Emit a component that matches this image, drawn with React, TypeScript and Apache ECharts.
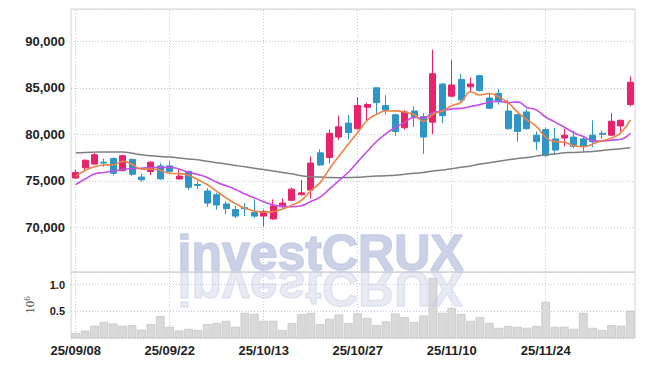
import React, { useEffect, useRef } from 'react';
import * as echarts from 'echarts';

const dates = [
  '25/09/08', '25/09/09', '25/09/10', '25/09/11', '25/09/12',
  '25/09/15', '25/09/16', '25/09/17', '25/09/18', '25/09/19',
  '25/09/22', '25/09/23', '25/09/24', '25/09/25', '25/09/26',
  '25/09/29', '25/09/30', '25/10/01', '25/10/02', '25/10/10',
  '25/10/13', '25/10/14', '25/10/15', '25/10/16', '25/10/17',
  '25/10/20', '25/10/21', '25/10/22', '25/10/23', '25/10/24',
  '25/10/27', '25/10/28', '25/10/29', '25/10/30', '25/10/31',
  '25/11/03', '25/11/04', '25/11/05', '25/11/06', '25/11/07',
  '25/11/10', '25/11/11', '25/11/12', '25/11/13', '25/11/14',
  '25/11/17', '25/11/18', '25/11/19', '25/11/20', '25/11/21',
  '25/11/24', '25/11/25', '25/11/26', '25/11/27', '25/11/28',
  '25/12/01', '25/12/02', '25/12/03', '25/12/04', '25/12/05',
];

const open = [
  75300, 76400, 76800, 77000, 77400, 76100, 77300, 75400, 76000, 76600,
  76600, 75200, 76000, 74600, 73900, 73500, 72500, 71900, 72100, 71600,
  71200, 70900, 72200, 72900, 73500, 74000, 78000, 77500, 79700, 81200,
  80600, 82900, 85000, 83100, 82100, 80700, 82500, 81900, 81300, 85400,
  84100, 85900, 85100, 86300, 83900, 84400, 82500, 82100, 82400, 79900,
  80500, 79500, 79600, 79700, 79500, 79900, 80100, 79900, 80900, 83200,
];
const close = [
  75900, 77200, 77800, 76900, 75800, 77700, 75700, 75100, 77000, 75200,
  76000, 75500, 74300, 74500, 72600, 72400, 72000, 71200, 72000, 71200,
  71700, 72300, 72600, 74100, 73700, 76900, 76700, 80100, 80800, 80200,
  83100, 83200, 83400, 82600, 80300, 82400, 81900, 79700, 86500, 82000,
  85300, 83700, 85400, 84700, 82800, 83500, 80600, 80300, 80600, 79200,
  77700, 78300, 79900, 78700, 78700, 79200, 80000, 81400, 81500, 85600,
];
const high = [
  76200, 77300, 78000, 77400, 77500, 77800, 77400, 75800, 77100, 76900,
  77100, 76200, 76100, 75000, 74200, 73700, 72800, 72300, 72600, 73000,
  71900, 73000, 73100, 74300, 75100, 77600, 78400, 80500, 82000, 82100,
  84000, 83400, 85000, 84200, 82200, 82600, 83000, 82300, 89100, 85500,
  88000, 86500, 86100, 86400, 84400, 84900, 83700, 82200, 82700, 80300,
  80700, 80700, 80600, 80400, 79800, 81500, 80400, 82300, 81600, 86200,
];
const low = [
  75200, 76100, 76700, 76500, 75600, 76000, 75500, 74900, 75600, 75100,
  75900, 75100, 74000, 74100, 72200, 71900, 71400, 71000, 71200, 71000,
  70100, 70800, 72100, 72800, 73400, 73100, 76600, 76900, 79400, 79400,
  80500, 81500, 82100, 82100, 79800, 80500, 80800, 77900, 80000, 81200,
  84000, 83400, 84500, 84600, 82700, 83200, 80500, 79200, 80500, 78300,
  77600, 77800, 78700, 78500, 78200, 78600, 79500, 79800, 80300, 83000,
];

const ma5 = [
  75500, 76100, 76500, 76700, 76720, 77080, 76780, 76240, 76260, 76140,
  75800, 75760, 75600, 75100, 74580, 73860, 73160, 72540, 72040, 71760,
  71620, 71680, 71960, 72380, 72880, 73920, 74800, 76300, 77640, 78940,
  80180, 81480, 82140, 82500, 82520, 82380, 82120, 81380, 82160, 82500,
  83080, 83440, 84580, 84220, 84380, 84020, 83400, 82380, 81560, 80840,
  79680, 79220, 79140, 78760, 78660, 78960, 79300, 79600, 80160, 81540,
];
const ma10 = [
  74600, 75190, 75730, 75890, 76050, 76210, 76320, 76340, 76430, 76430,
  76440, 76270, 75920, 75680, 75360, 74830, 74460, 74070, 73570, 73170,
  72740, 72420, 72250, 72210, 72320, 72770, 73240, 74130, 75010, 75910,
  77050, 78140, 79220, 80070, 80730, 81280, 81800, 81760, 82330, 82510,
  82730, 82780, 82980, 83190, 83440, 83550, 83420, 83480, 82890, 82610,
  81850, 81310, 80760, 80160, 79750, 79320, 79260, 79370, 79460, 80100,
];
const maLong = [
  78000, 78050, 78080, 78100, 78100, 78100, 77950, 77800, 77700, 77620,
  77550, 77450, 77350, 77250, 77100, 76950, 76800, 76650, 76500, 76350,
  76200, 76050, 75900, 75750, 75550, 75450, 75400, 75350, 75330, 75340,
  75380, 75450, 75500, 75550, 75600, 75700, 75800, 75900, 76050, 76150,
  76300, 76450, 76600, 76800, 76950, 77100, 77250, 77400, 77500, 77650,
  77800, 77900, 78000, 78050, 78100, 78150, 78250, 78350, 78450, 78550,
];

const volume = [
  94000, 138000, 230000, 300000, 270000, 230000, 240000, 156000, 260000, 410000,
  210000, 140000, 170000, 150000, 260000, 280000, 320000, 210000, 470000, 450000,
  320000, 320000, 150000, 280000, 450000, 470000, 260000, 360000, 440000, 280000,
  460000, 375000, 240000, 310000, 460000, 390000, 300000, 420000, 1125000, 470000,
  560000, 450000, 320000, 390000, 280000, 190000, 225000, 210000, 190000, 225000,
  675000, 210000, 210000, 170000, 470000, 190000, 150000, 240000, 230000, 510000,
];

const gridLineIdx = [0, 10, 20, 30, 40, 50];

const UP = '#e8236b';
const DOWN = '#2e95c6';
const GRID_DOT = '#c4c8d8';
const LABEL_FONT = '"Liberation Sans", Arial, sans-serif';
const WM_COLOR = 'rgb(194,202,228)';

export default function App() {
  const ref = useRef<HTMLDivElement>(null);
  useEffect(() => {
    const chart = echarts.init(ref.current!, null, { renderer: 'svg' });
    const candles = dates.map((_, i) => [open[i], close[i], low[i], high[i]]);
    const vLines = gridLineIdx.map((i) => ({ xAxis: i }));
    const markLine = {
      silent: true,
      symbol: 'none',
      label: { show: false },
      lineStyle: { type: [1, 2], color: GRID_DOT, width: 1 },
      data: vLines,
      z: 0,
    };
    const wmX = 177.5;
    const wmBase = 270.5;
    const wmCenter = wmBase - 17.3;
    const wmStyle = {
      text: 'investCRUX',
      fontSize: 50,
      fontWeight: 'bold',
      fontFamily: '"Liberation Sans", Arial, sans-serif',
      textAlign: 'left',
      verticalAlign: 'middle',
      fill: WM_COLOR,
      stroke: WM_COLOR,
      lineWidth: 1.6,
    };
    const option: any = {
      animation: false,
      grid: [
        { left: 71, top: 9, width: 564, height: 263, show: true, borderColor: '#d4d4d4', borderWidth: 1 },
        { left: 71, top: 272, width: 564, height: 66, show: true, borderColor: '#d4d4d4', borderWidth: 1 },
      ],
      xAxis: [
        {
          type: 'category', data: dates, gridIndex: 0, boundaryGap: true,
          axisLine: { show: false }, axisTick: { show: false }, axisLabel: { show: false }, splitLine: { show: false },
        },
        {
          type: 'category', data: dates, gridIndex: 1, boundaryGap: true,
          axisLine: { show: false }, axisTick: { show: false }, splitLine: { show: false },
          axisLabel: {
            interval: 9, margin: 6, color: '#222', fontFamily: LABEL_FONT, fontWeight: 'bold', fontSize: 13,
          },
        },
      ],
      yAxis: [
        {
          type: 'value', gridIndex: 0, min: 65190, max: 93470, splitNumber: 5,
          axisLine: { show: false }, axisTick: { show: false },
          axisLabel: {
            showMinLabel: false, showMaxLabel: false, margin: 6,
            color: '#222', fontFamily: LABEL_FONT, fontWeight: 'bold', fontSize: 13,
            formatter: (v: number) => (v % 5000 === 0 ? v.toLocaleString('en-US') : ''),
          },
          splitLine: { lineStyle: { type: [1, 2], color: GRID_DOT, width: 1 } },
        },
        {
          type: 'value', gridIndex: 1, min: 0, max: 1236000, splitNumber: 2,
          axisLine: { show: false }, axisTick: { show: false },
          axisLabel: {
            showMinLabel: false, showMaxLabel: false, margin: 6,
            color: '#222', fontFamily: LABEL_FONT, fontWeight: 'bold', fontSize: 11,
            formatter: (v: number) => (v % 500000 === 0 ? (v / 1e6).toFixed(1) : ''),
          },
          splitLine: { lineStyle: { type: [1, 2], color: GRID_DOT, width: 1 } },
          name: '{a|10}{b|6}',
          nameLocation: 'middle',
          nameRotate: 90,
          nameGap: 34,
          nameTextStyle: {
            color: '#444',
            rich: {
              a: { fontFamily: '"Liberation Serif", serif', fontSize: 13, color: '#444' },
              b: { fontFamily: '"Liberation Serif", serif', fontSize: 9, color: '#444', verticalAlign: 'top', padding: [0, 0, 6, 0] },
            },
          },
        },
      ],
      series: [
        {
          type: 'candlestick', xAxisIndex: 0, yAxisIndex: 0, data: candles, barWidth: 6.5,
          itemStyle: { color: UP, color0: DOWN, borderColor: UP, borderColor0: DOWN, borderWidth: 1 },
          markLine,
        },
        {
          type: 'line', name: 'MA long', xAxisIndex: 0, yAxisIndex: 0, data: maLong, symbol: 'none', smooth: true,
          lineStyle: { width: 1.5, color: '#7f7f7f' },
        },
        {
          type: 'line', name: 'MA10', xAxisIndex: 0, yAxisIndex: 0, data: ma10, symbol: 'none', smooth: true,
          lineStyle: { width: 1.6, color: '#c44fe6' },
        },
        {
          type: 'line', name: 'MA5', xAxisIndex: 0, yAxisIndex: 0, data: ma5, symbol: 'none', smooth: true,
          lineStyle: { width: 1.6, color: '#ef8245' },
        },
        {
          type: 'bar', xAxisIndex: 1, yAxisIndex: 1, data: volume, barWidth: '92%',
          itemStyle: { color: '#d9d9d9', borderColor: '#c2c2c2', borderWidth: 0.7 },
          markLine,
        },
      ],
      graphic: [
        {
          type: 'text', x: wmX, y: wmCenter, z: 100, silent: true,
          style: { ...wmStyle, opacity: 0.85 },
        },
        {
          type: 'text', x: wmX, y: 2 * wmBase - wmCenter, scaleY: -1, z: 100, silent: true,
          style: { ...wmStyle, opacity: 0.38 },
        },
      ],
    };
    chart.setOption(option);
    return () => chart.dispose();
  }, []);
  return (
    <div
      ref={ref}
      style={{ position: 'absolute', left: 0, top: 0, width: 645, height: 366, background: '#fff' }}
    />
  );
}
